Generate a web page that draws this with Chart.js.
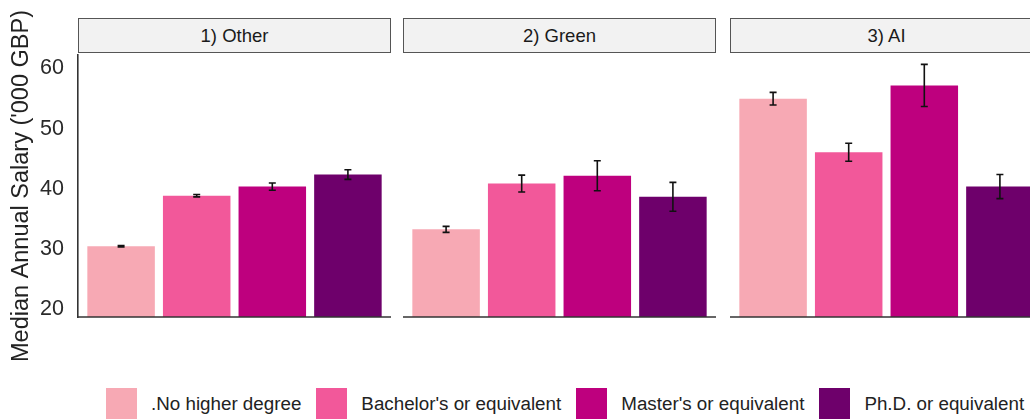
<!DOCTYPE html>
<html>
<head>
<meta charset="utf-8">
<script src="https://cdn.jsdelivr.net/npm/chart.js@4.4.1/dist/chart.umd.min.js"></script>
<style>
  html, body { margin: 0; padding: 0; background: #fff; }
  body { width: 1030px; height: 419px; overflow: hidden; position: relative; font-family: "Liberation Sans", Arial, sans-serif; }
  canvas { position: absolute; top: 0; }
  .strip {
    position: absolute; top: 18px; height: 35px; box-sizing: border-box;
    background: #f2f2f2; border: 1.3px solid #555;
    font-size: 18.5px; color: #1a1a1a; text-align: center; line-height: 33px;
  }
  #legend { position: absolute; left: 106px; top: 388px; display: flex; align-items: center; height: 31px; }
  .key { width: 31px; height: 31px; margin-right: 14px; }
  .lab { font-size: 18.8px; color: #222; margin-right: 15px; white-space: nowrap; }
</style>
</head>
<body>
<div id="legend"></div>

<script>
// Data
const panels = ["1) Other", "2) Green", "3) AI"];
const degrees = [".No higher degree", "Bachelor's or equivalent", "Master's or equivalent", "Ph.D. or equivalent"];
const colors = ["#F7A9B4", "#F2589A", "#BE007E", "#6E006B"];

const otherMedian = [30.5, 38.9, 40.4, 42.4];
const otherErr = [0.1, 0.2, 0.6, 0.8];
const greenMedian = [33.3, 40.9, 42.2, 38.7];
const greenErr = [0.5, 1.4, 2.5, 2.4];
const aiMedian = [55.0, 46.1, 57.2, 40.4];
const aiErr = [1.05, 1.5, 3.5, 2.0];

const yTicks = [20, 30, 40, 50, 60];

const medians = [otherMedian, greenMedian, aiMedian];
const errors = [otherErr, greenErr, aiErr];

// panel placement (left edge, width) in page pixels
const panelLeft = [78, 403, 730];
const panelWidth = 313;

const fontFam = "'Liberation Sans', Arial, sans-serif";

// Error bars + bottom axis line
const errorBars = {
  id: "errorBars",
  afterDatasetsDraw(chart) {
    const ctx = chart.ctx;
    const y = chart.scales.y;
    const meta = chart.getDatasetMeta(0);
    const errs = chart.options.plugins.errorBars.errs;
    const vals = chart.data.datasets[0].data;
    ctx.save();
    ctx.strokeStyle = "#111";
    ctx.lineWidth = 1.6;
    meta.data.forEach((bar, i) => {
      const top = y.getPixelForValue(vals[i].y + errs[i]);
      const bot = y.getPixelForValue(vals[i].y - errs[i]);
      ctx.beginPath();
      ctx.moveTo(bar.x, top); ctx.lineTo(bar.x, bot);
      ctx.moveTo(bar.x - 3.5, top); ctx.lineTo(bar.x + 3.5, top);
      ctx.moveTo(bar.x - 3.5, bot); ctx.lineTo(bar.x + 3.5, bot);
      ctx.stroke();
    });
    // bottom axis line
    const a = chart.chartArea;
    ctx.strokeStyle = "#333";
    ctx.lineWidth = 1.6;
    ctx.beginPath();
    ctx.moveTo(a.left - 0.8, a.bottom);
    ctx.lineTo(a.right, a.bottom);
    ctx.stroke();
    ctx.restore();
  }
};

function makePanel(p) {
  const first = p === 0;
  const canvas = document.createElement("canvas");
  const left = first ? 0 : panelLeft[p];
  const width = first ? panelLeft[0] + panelWidth : panelWidth;
  canvas.width = width;
  canvas.height = 419;
  canvas.style.left = left + "px";
  document.body.appendChild(canvas);

  const strip = document.createElement("div");
  strip.className = "strip";
  strip.style.left = panelLeft[p] + "px";
  strip.style.width = panelWidth + "px";
  strip.textContent = panels[p];
  document.body.appendChild(strip);

  new Chart(canvas.getContext("2d"), {
    type: "bar",
    data: {
      datasets: [{
        data: medians[p].map((v, i) => ({ x: i + 1, y: v })),
        backgroundColor: colors,
        borderWidth: 0,
        categoryPercentage: 1,
        barPercentage: 0.893
      }]
    },
    options: {
      responsive: false,
      animation: false,
      layout: { padding: { top: 55, bottom: 102, left: 0, right: 0 } },
      plugins: {
        legend: { display: false },
        tooltip: { enabled: false },
        errorBars: { errs: errors[p] }
      },
      scales: {
        x: {
          type: "linear",
          display: false,
          offset: false,
          min: 0.43,
          max: 4.57,
          afterBuildTicks: (s) => { s.ticks = degrees.map((d, i) => ({ value: i + 1 })); }
        },
        y: {
          display: first,
          min: 18.75,
          max: 62.25,
          afterBuildTicks: (s) => { s.ticks = yTicks.map(v => ({ value: v })); },
          afterFit: (s) => { if (first) s.width = panelLeft[0]; },
          grid: { display: false },
          border: { display: true, color: "#333", width: 1.6 },
          ticks: {
            padding: 6,
            color: "#2a2a2a",
            font: { family: fontFam, size: 21.5 }
          },
          title: {
            display: true,
            text: "Median Annual Salary ('000 GBP)",
            color: "#222",
            padding: { top: 7, bottom: 0 },
            font: { family: fontFam, size: 23.5 }
          }
        }
      }
    },
    plugins: [errorBars]
  });
}

panels.forEach((_, p) => makePanel(p));

// Legend
const legend = document.getElementById("legend");
degrees.forEach((d, i) => {
  const k = document.createElement("div");
  k.className = "key";
  k.style.background = colors[i];
  const t = document.createElement("div");
  t.className = "lab";
  t.textContent = d;
  legend.appendChild(k);
  legend.appendChild(t);
});
</script>
</body>
</html>
